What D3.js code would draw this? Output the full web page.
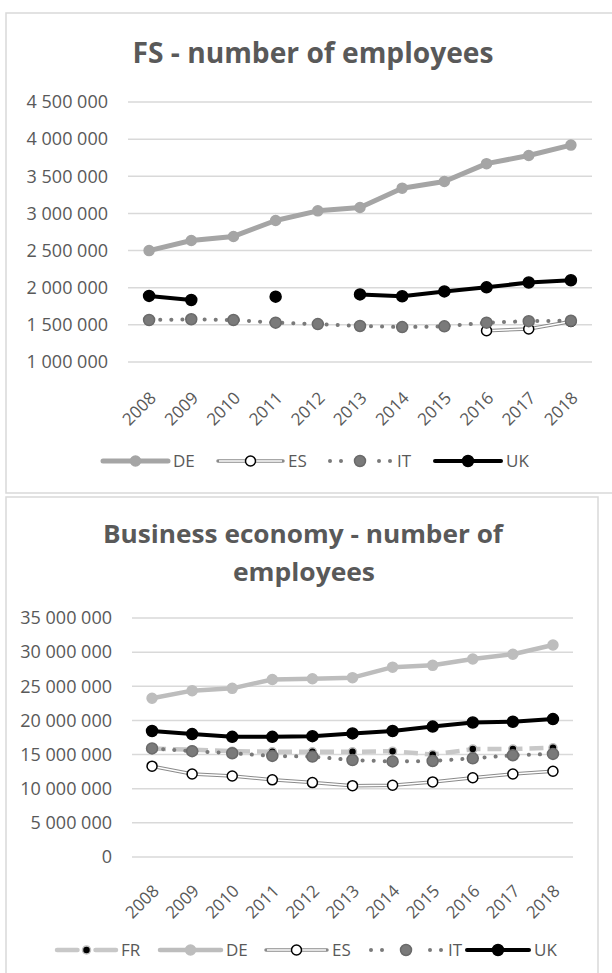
<!DOCTYPE html>
<html>
<head>
<meta charset="utf-8">
<script src="https://cdn.jsdelivr.net/npm/d3@7"></script>
<style>
  html, body { margin: 0; padding: 0; background: #fff; }
  svg { display: block; }
  text { font-family: "Open Sans", sans-serif; fill: #595959; }
</style>
</head>
<body>
<svg id="chart" width="612" height="973"></svg>
<script>
// ---------- data ----------
const years = ["2008","2009","2010","2011","2012","2013","2014","2015","2016","2017","2018"];

// FS - number of employees
const fsDE = [2500000, 2635000, 2690000, 2905000, 3035000, 3080000, 3340000, 3430000, 3670000, 3780000, 3920000];
const fsES = [null, null, null, null, null, null, null, null, 1420000, 1445000, 1545000];
const fsIT = [1565000, 1575000, 1565000, 1530000, 1510000, 1485000, 1470000, 1480000, 1530000, 1550000, 1555000];
const fsUK = [1890000, 1835000, null, 1880000, null, 1910000, 1885000, 1950000, 2005000, 2070000, 2100000];
const fsTicks = [1000000, 1500000, 2000000, 2500000, 3000000, 3500000, 4000000, 4500000];

// Business economy - number of employees
const beFR = [15900000, 15700000, 15500000, 15400000, 15400000, 15400000, 15500000, 15000000, 15800000, 15800000, 16000000];
const beDE = [23240000, 24360000, 24700000, 26000000, 26100000, 26260000, 27800000, 28070000, 29000000, 29700000, 31050000];
const beES = [13300000, 12150000, 11860000, 11300000, 10900000, 10450000, 10500000, 11000000, 11600000, 12150000, 12550000];
const beIT = [15900000, 15500000, 15200000, 14800000, 14700000, 14200000, 14000000, 14060000, 14450000, 14900000, 15100000];
const beUK = [18450000, 18000000, 17600000, 17600000, 17700000, 18100000, 18450000, 19100000, 19700000, 19800000, 20200000];
const beTicks = [0, 5000000, 10000000, 15000000, 20000000, 25000000, 30000000, 35000000];

// ---------- styles ----------
const styles = {
  FR: {kind: "dash",   color: "#c8c8c8", width: 4.5, mFill: "#000", mStroke: "#bfbfbf", r: 4},
  DE: {kind: "solid",  color: "#a5a5a5", width: 5,   mFill: "#a5a5a5", mStroke: "#a5a5a5", r: 5},
  DE2:{kind: "solid",  color: "#bdbdbd", width: 4.5, mFill: "#bdbdbd", mStroke: "#bdbdbd", r: 5},
  ES: {kind: "double", color: "#8a8a8a", width: 3.5, mFill: "#fff", mStroke: "#000", r: 5},
  IT: {kind: "dot",    color: "#7a7a7a", width: 4,   mFill: "#7a7a7a", mStroke: "#6a6a6a", r: 5.5},
  UK: {kind: "solid",  color: "#000",    width: 4,   mFill: "#000", mStroke: "#000", r: 5.5}
};

const fmtSp = v => d3.format(",")(v).replace(/,/g, " ");

const svg = d3.select("#chart");

// borders
svg.append("rect").attr("x", 6).attr("y", 13).attr("width", 640).attr("height", 480)
  .attr("fill", "none").attr("stroke", "#d9d9d9").attr("stroke-width", 1.5);
svg.append("rect").attr("x", 6).attr("y", 497).attr("width", 592).attr("height", 520)
  .attr("fill", "none").attr("stroke", "#d9d9d9").attr("stroke-width", 1.5);

function drawSeries(g, x, y, vals, st) {
  const pts = vals.map((v, i) => ({v, i}));
  const line = d3.line().defined(d => d.v != null)
    .x(d => x(years[d.i]) + x.bandwidth() / 2).y(d => y(d.v));
  if (st.kind === "double") {
    g.append("path").attr("d", line(pts)).attr("fill", "none")
      .attr("stroke", st.color).attr("stroke-width", st.width);
    g.append("path").attr("d", line(pts)).attr("fill", "none")
      .attr("stroke", "#fff").attr("stroke-width", st.width - 2);
  } else {
    const p = g.append("path").attr("d", line(pts)).attr("fill", "none")
      .attr("stroke", st.color).attr("stroke-width", st.width)
      .attr("stroke-linejoin", "round");
    if (st.kind === "dot") p.attr("stroke-dasharray", "0.1 11").attr("stroke-linecap", "round");
    if (st.kind === "dash") p.attr("stroke-dasharray", "14 7");
  }
  g.selectAll(null).data(pts.filter(d => d.v != null)).enter().append("circle")
    .attr("cx", d => x(years[d.i]) + x.bandwidth() / 2).attr("cy", d => y(d.v))
    .attr("r", st.r).attr("fill", st.mFill).attr("stroke", st.mStroke).attr("stroke-width", 1.5);
}

function legendItem(g, x0, x1, y, label, st) {
  const xm = (x0 + x1) / 2;
  if (st.kind === "double") {
    g.append("line").attr("x1", x0).attr("x2", x1).attr("y1", y).attr("y2", y)
      .attr("stroke", st.color).attr("stroke-width", st.width).attr("stroke-linecap", "round");
    g.append("line").attr("x1", x0 + 1).attr("x2", x1 - 1).attr("y1", y).attr("y2", y)
      .attr("stroke", "#fff").attr("stroke-width", st.width - 2);
  } else if (st.kind === "dot") {
    [x0 + 2, x0 + 13, x1 - 13, x1 - 2].forEach(cx =>
      g.append("circle").attr("cx", cx).attr("cy", y).attr("r", 2).attr("fill", st.color));
  } else if (st.kind === "dash") {
    g.append("line").attr("x1", x0).attr("x2", xm - 9).attr("y1", y).attr("y2", y)
      .attr("stroke", st.color).attr("stroke-width", st.width).attr("stroke-linecap", "round");
    g.append("line").attr("x1", xm + 9).attr("x2", x1).attr("y1", y).attr("y2", y)
      .attr("stroke", st.color).attr("stroke-width", st.width).attr("stroke-linecap", "round");
  } else {
    g.append("line").attr("x1", x0).attr("x2", x1).attr("y1", y).attr("y2", y)
      .attr("stroke", st.color).attr("stroke-width", st.width).attr("stroke-linecap", "round");
  }
  g.append("circle").attr("cx", xm).attr("cy", y).attr("r", st.r)
    .attr("fill", st.mFill).attr("stroke", st.mStroke).attr("stroke-width", 1.5);
  g.append("text").attr("x", x1 + 5).attr("y", y).attr("dy", "0.35em")
    .style("font-size", "17px").text(label);
}

function drawChart(opt) {
  const x = d3.scaleBand().domain(years).range([opt.x0, opt.x1]);
  const y = d3.scaleLinear().domain(opt.domain).range([opt.yBottom, opt.yTop]);
  const g = svg.append("g");

  // gridlines
  g.selectAll(null).data(opt.ticks).enter().append("line")
    .attr("x1", opt.x0).attr("x2", opt.x1)
    .attr("y1", d => y(d)).attr("y2", d => y(d))
    .attr("stroke", "#d9d9d9").attr("stroke-width", 1.5);

  // y axis labels
  const ya = g.append("g").attr("transform", `translate(${opt.x0 - 20},0)`)
    .call(d3.axisLeft(y).tickValues(opt.ticks).tickSize(0).tickPadding(0).tickFormat(fmtSp));
  ya.select(".domain").remove();
  ya.selectAll("text").style("font-size", "18px").style("font-family", "Open Sans").attr("fill", "#595959");

  // x axis labels
  const xa = g.append("g").attr("transform", `translate(0,${opt.yBottom})`)
    .call(d3.axisBottom(x).tickSize(0).tickPadding(0));
  xa.select(".domain").remove();
  xa.selectAll("text").style("font-size", "17px").style("font-family", "Open Sans").attr("fill", "#595959")
    .attr("text-anchor", "end").attr("dy", "0")
    .attr("transform", `translate(${opt.lx},${opt.ly}) rotate(-45)`);

  // series
  opt.series.forEach(s => drawSeries(g, x, y, s.vals, s.st));

  // title
  opt.title.forEach(t => {
    g.append("text").attr("x", t.x).attr("y", t.y).attr("text-anchor", "middle")
      .style("font-size", t.size + "px").style("font-weight", "bold")
      .attr("textLength", t.len).attr("lengthAdjust", "spacingAndGlyphs")
      .text(t.text);
  });

  // legend
  opt.legend.forEach(l => legendItem(g, l.x0, l.x1, opt.legendY, l.label, l.st));
}

drawChart({
  x0: 128, x1: 592, yTop: 102, yBottom: 362, domain: [1000000, 4500000], ticks: fsTicks,
  lx: 8, ly: 37,
  series: [
    {vals: fsDE, st: styles.DE},
    {vals: fsES, st: styles.ES},
    {vals: fsIT, st: styles.IT},
    {vals: fsUK, st: styles.UK}
  ],
  title: [{text: "FS - number of employees", x: 313, y: 63, size: 28, len: 361}],
  legendY: 461,
  legend: [
    {x0: 103, x1: 168, label: "DE", st: styles.DE},
    {x0: 218, x1: 283, label: "ES", st: styles.ES},
    {x0: 328, x1: 392, label: "IT", st: styles.IT},
    {x0: 435, x1: 501, label: "UK", st: styles.UK}
  ]
});

drawChart({
  x0: 132, x1: 573, yTop: 618, yBottom: 857, domain: [0, 35000000], ticks: beTicks,
  lx: 8, ly: 35,
  series: [
    {vals: beFR, st: styles.FR},
    {vals: beDE, st: styles.DE2},
    {vals: beES, st: styles.ES},
    {vals: beIT, st: styles.IT},
    {vals: beUK, st: styles.UK}
  ],
  title: [
    {text: "Business economy - number of", x: 303, y: 543, size: 25, len: 400},
    {text: "employees", x: 304, y: 581, size: 25, len: 142}
  ],
  legendY: 950,
  legend: [
    {x0: 57, x1: 116, label: "FR", st: styles.FR},
    {x0: 160, x1: 221, label: "DE", st: styles.DE2},
    {x0: 266, x1: 327, label: "ES", st: styles.ES},
    {x0: 369, x1: 443, label: "IT", st: styles.IT},
    {x0: 467, x1: 529, label: "UK", st: styles.UK}
  ]
});
</script>
</body>
</html>
